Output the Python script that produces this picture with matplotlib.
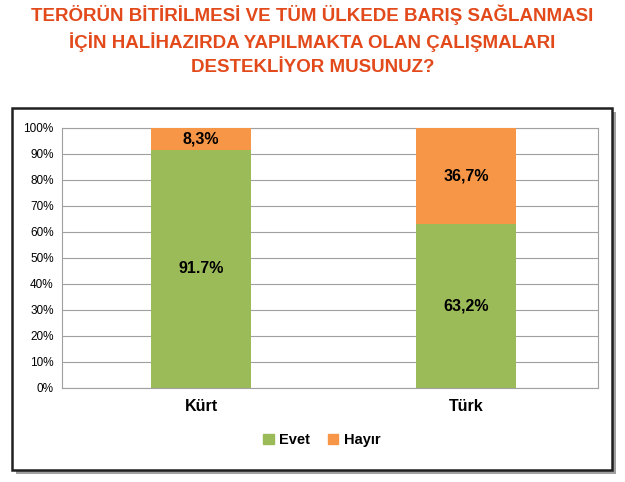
import matplotlib.pyplot as plt
from matplotlib.patches import Rectangle, Patch

plt.rcParams['font.family'] = ['Liberation Sans', 'DejaVu Sans']

categories = ['Kürt', 'Türk']
evet = [91.7, 63.2]
hayir = [8.3, 36.8]
evet_labels = ['91.7%', '63,2%']
hayir_labels = ['8,3%', '36,7%']
yticks = list(range(0, 101, 10))

GREEN = '#9BBB59'
ORANGE = '#F79646'

fig = plt.figure(figsize=(6.25, 4.82), dpi=100)
W, H = 625, 482

title_lines = ['TERÖRÜN BİTİRİLMESİ VE TÜM ÜLKEDE BARIŞ SAĞLANMASI',
               'İÇİN HALİHAZIRDA YAPILMAKTA OLAN ÇALIŞMALARI',
               'DESTEKLİYOR MUSUNUZ?']
for line, yp in zip(title_lines, [15, 42, 68]):
    fig.text(0.5, 1 - yp / H, line, ha='center', va='center', color='#E2491B',
             fontsize=13.5, fontweight='bold')

# chart frame with shadow
fig.patches.append(Rectangle((16 / W, 1 - 474 / H), 600 / W, 362 / H, transform=fig.transFigure,
                             facecolor='#A0A0A0', edgecolor='none', zorder=0))
fig.patches.append(Rectangle((12 / W, 1 - 470 / H), 600 / W, 362 / H, transform=fig.transFigure,
                             facecolor='white', edgecolor='#202020', lw=1.8, zorder=1))

ax = fig.add_axes([62 / W, 1 - 388 / H, 536 / W, 260 / H])
ax.set_zorder(2)
x = range(len(categories))
ax.bar(x, evet, width=0.38, color=GREEN, zorder=3)
ax.bar(x, hayir, width=0.38, bottom=evet, color=ORANGE, zorder=3)
for i in x:
    ax.text(i, evet[i] / 2, evet_labels[i], ha='center', va='center', fontsize=11.5, fontweight='bold', zorder=4)
    ax.text(i, evet[i] + hayir[i] / 2, hayir_labels[i], ha='center', va='center', fontsize=11.5,
            fontweight='bold', zorder=4)

ax.set_xlim(-0.525, 1.498)
ax.set_ylim(0, 100)
ax.set_yticks(yticks)
ax.set_yticklabels([f'{v}%' for v in yticks], fontsize=8.5)
ax.set_xticks(list(x))
ax.set_xticklabels(categories, fontsize=11.5, fontweight='bold')
ax.tick_params(axis='x', length=0, pad=8)
ax.tick_params(axis='y', length=0, pad=6)
ax.grid(True, axis='y', color='#A0A0A0', lw=0.8, zorder=0)
for s in ax.spines.values():
    s.set_color('#A0A0A0')

fig.legend(handles=[Patch(color=GREEN, label='Evet'), Patch(color=ORANGE, label='Hayır')],
           loc='center', bbox_to_anchor=(0.515, 1 - 440 / H), ncol=2, frameon=False,
           prop={'weight': 'bold', 'size': 10.5}, handlelength=0.7, handleheight=0.7, columnspacing=1.2,
           handletextpad=0.4)

fig.savefig('out.png', dpi=100)
